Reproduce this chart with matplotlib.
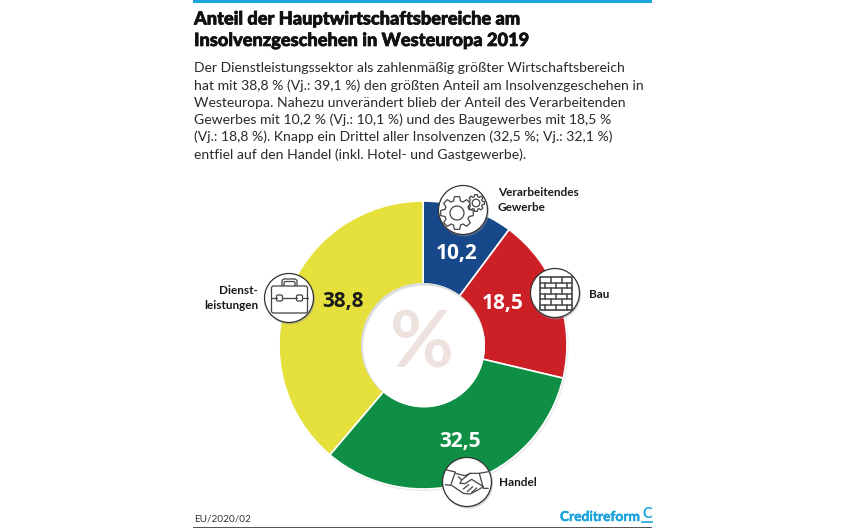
import numpy as np
import matplotlib
matplotlib.use('Agg')
import matplotlib.pyplot as plt
import matplotlib.patheffects as pe
from matplotlib.patches import Circle, Rectangle, Polygon, FancyBboxPatch

# Data
categories = ['Verarbeitendes\nGewerbe', 'Bau', 'Handel', 'Dienst-\nleistungen']
values = [10.2, 18.5, 32.5, 38.8]
value_labels = ['10,2', '18,5', '32,5', '38,8']
colors = ['#17498a', '#cc1f26', '#0f8f46', '#e5e03c']
label_colors = ['white', 'white', 'white', '#1a1a1a']

title_lines = ['Anteil der Hauptwirtschaftsbereiche am',
               'Insolvenzgeschehen in Westeuropa 2019']
body_lines = ['Der Dienstleistungssektor als zahlenmäßig größter Wirtschaftsbereich',
              'hat mit 38,8 % (Vj.: 39,1 %) den größten Anteil am Insolvenzgeschehen in',
              'Westeuropa. Nahezu unverändert blieb der Anteil des Verarbeitenden',
              'Gewerbes mit 10,2 % (Vj.: 10,1 %) und des Baugewerbes mit 18,5 %',
              '(Vj.: 18,8 %). Knapp ein Drittel aller Insolvenzen (32,5 %; Vj.: 32,1 %)',
              'entfiel auf den Handel (inkl. Hotel- und Gastgewerbe).']

W, H = 843, 528
plt.rcParams['font.family'] = ['Lato', 'DejaVu Sans']
fig = plt.figure(figsize=(W / 100, H / 100), dpi=100)
ax = fig.add_axes([0, 0, 1, 1])
ax.set_xlim(0, W)
ax.set_ylim(0, H)
ax.axis('off')

# pixel y from top -> axes y
def py(y):
    return H - y

# Rules
ax.add_patch(Rectangle((193, py(3)), 459, 3, color='#1ba3dc', lw=0))
ax.add_patch(Rectangle((193, py(527.5)), 459, 1, color='#555555', lw=0))

# Heading and text
for i, line in enumerate(title_lines):
    t = ax.text(194, py(19 + i * 21.5), line, fontsize=13.1, fontweight='black', color='#111111', va='center')
    t.set_path_effects([pe.withStroke(linewidth=0.5, foreground='#111111')])
for i, line in enumerate(body_lines):
    ax.text(194, py(68 + i * 17.3), line, fontsize=10.1, color='#2a2a2a', va='center')

# Donut
cx, cy, r_out, r_in = 423, py(345), 144, 61
ax.add_patch(Circle((cx + 1, cy - 1.5), r_out + 0.5, color='#e6e6e6', lw=0, zorder=1))
wedges, _ = ax.pie(values, colors=colors, startangle=90, counterclock=False, center=(cx, cy), radius=r_out,
                   wedgeprops=dict(width=r_out - r_in, edgecolor='white', linewidth=1.2), frame=False)
for w in wedges:
    w.set_zorder(2)
ax.set_xlim(0, W)
ax.set_ylim(0, H)
ax.set_aspect('auto')
ax.axis('off')
ax.add_patch(Circle((cx, cy), r_in + 1, color='#dcdcdc', lw=0, zorder=3))
ax.add_patch(Circle((cx + 1, cy - 1.5), r_in, color='white', lw=0, zorder=3))
ax.text(cx - 1, cy - 0.5, '%', fontsize=56, color='#eee2df', ha='center', va='center', fontweight='bold', zorder=4)

# Values
value_pos = [(457, 253), (503, 303), (460, 442), (343, 302)]
for (x, y), txt, c in zip(value_pos, value_labels, label_colors):
    ax.text(x, py(y), txt, fontsize=15, fontweight='bold', family='Open Sans', color=c,
            ha='center', va='center', zorder=5)

# Category labels
ax.text(498, py(200), categories[0], fontsize=8.5, fontweight='bold', color='#1a1a1a', va='center',
        linespacing=1.4, zorder=5)
ax.text(589, py(294), categories[1], fontsize=8.5, fontweight='bold', color='#1a1a1a', va='center', zorder=5)
ax.text(499, py(483), categories[2], fontsize=8.5, fontweight='bold', color='#1a1a1a', va='center', zorder=5)
ax.text(258, py(298), categories[3], fontsize=8.5, fontweight='bold', color='#1a1a1a', va='center', ha='right',
        linespacing=1.4, zorder=5)

# Icon discs
icon_centers = [(463, 210), (555, 293), (467, 482), (289, 298)]
for x, y in icon_centers:
    ax.add_patch(Circle((x + 1, py(y) - 1.5), 25, color='#999999', alpha=0.45, lw=0, zorder=6))
    ax.add_patch(Circle((x, py(y)), 24.5, facecolor='white', edgecolor='#333333', lw=0.9, zorder=7))

ink = dict(edgecolor='#444444', facecolor='white', lw=0.9, zorder=8)

def stroke(points, lw=0.9):
    xs, ys = zip(*points)
    ax.plot(xs, ys, color='#444444', lw=lw, zorder=9, solid_capstyle='round', solid_joinstyle='round')

# Gears
def gear(x, y, r, teeth, hole):
    pts = []
    step = 2 * np.pi / teeth
    for k in range(teeth):
        a = k * step
        for off, rad in [(-0.30, 0.76), (-0.17, 1.0), (0.17, 1.0), (0.30, 0.76)]:
            pts.append((x + r * rad * np.cos(a + off * step * 1.2), y + r * rad * np.sin(a + off * step * 1.2)))
    ax.add_patch(Polygon(pts, closed=True, **ink))
    ax.add_patch(Circle((x, y), hole, **ink))

gear(476, py(203), 8.5, 8, 3.8)
gear(457, py(213), 16.5, 8, 7)

# Brick wall
wx, wy = 556, py(293.5)
wall_w, wall_h = 32, 33
row_h = wall_h / 6
ax.add_patch(Rectangle((wx - wall_w / 2, wy - wall_h / 2), wall_w, wall_h, edgecolor='#444444',
                       facecolor='none', lw=1.2, zorder=9))
for k in range(1, 6):
    y = wy - wall_h / 2 + k * row_h
    stroke([(wx - wall_w / 2, y), (wx + wall_w / 2, y)], lw=1.1)
for k in range(6):
    y0 = wy + wall_h / 2 - (k + 1) * row_h
    xs = [-5.5, 5.5] if k % 2 == 0 else [-11, 0, 11]
    for dx in xs:
        stroke([(wx + dx, y0), (wx + dx, y0 + row_h)], lw=1.1)

# Briefcase
bx = 289.5
ax.add_patch(FancyBboxPatch((bx - 7.5, py(292)), 15, 13, boxstyle='round,pad=0,rounding_size=2.5', **ink))
ax.add_patch(FancyBboxPatch((bx - 5.5, py(292)), 11, 10.5, boxstyle='round,pad=0,rounding_size=1.5', **ink))
ax.add_patch(FancyBboxPatch((bx - 18, py(313)), 36, 27, boxstyle='round,pad=0,rounding_size=2', **ink))
stroke([(bx - 18, py(298)), (bx - 13, py(298))])
stroke([(bx - 7, py(298)), (bx + 7, py(298))])
stroke([(bx + 13, py(298)), (bx + 18, py(298))])
ax.add_patch(FancyBboxPatch((bx - 13, py(301)), 6, 6, boxstyle='round,pad=0,rounding_size=1.5', **ink))
ax.add_patch(FancyBboxPatch((bx + 7, py(301)), 6, 6, boxstyle='round,pad=0,rounding_size=1.5', **ink))

# Handshake, outline taken off the reference crop
def hs(points):
    stroke([(420 + a / 3, py(420 + b / 3)) for a, b in points])

hs([(80, 150), (106, 156), (92, 196), (76, 194)])
hs([(205, 155), (178, 160), (190, 205), (205, 205)])
hs([(106, 160), (135, 167), (150, 160), (178, 160)])
hs([(150, 160), (125, 180), (120, 190), (135, 191), (155, 178), (190, 200)])
hs([(95, 196), (130, 220), (150, 222), (170, 212), (190, 200)])
hs([(125, 180), (115, 170)])
hs([(130, 207), (146, 194)])
hs([(142, 215), (158, 200)])
hs([(155, 218), (170, 204)])

# Footer
ax.text(194, py(519), 'EU/2020/02', fontsize=7.2, color='#333333', va='center')
t = ax.text(560, py(517), 'Creditreform', fontsize=9.9, fontweight='bold', color='#1ba3dc', va='center')
t.set_path_effects([pe.withStroke(linewidth=0.3, foreground='#1ba3dc')])
ax.text(647, py(513.5), 'C', fontsize=10.5, fontweight='bold', color='#1ba3dc', ha='center', va='center')
ax.plot([642, 652], [py(521.5), py(521.5)], color='#1ba3dc', lw=1.2)

fig.savefig('out.png', dpi=100)
